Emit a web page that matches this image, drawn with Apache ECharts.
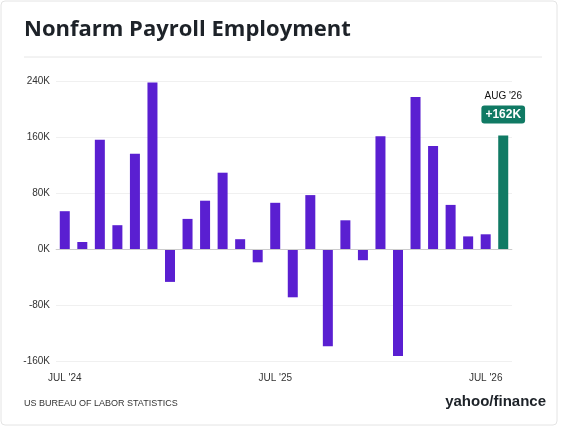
<!DOCTYPE html><html><head><meta charset="utf-8">
<script src="https://cdn.jsdelivr.net/npm/echarts@6/dist/echarts.min.js"></script>
<style>html,body{margin:0;background:#fff}#c{width:566px;height:428px}</style></head><body><div id="c"></div>
<script>
const months=["JUL '24","AUG '24","SEP '24","OCT '24","NOV '24","DEC '24","JAN '25","FEB '25","MAR '25","APR '25","MAY '25","JUN '25","JUL '25","AUG '25","SEP '25","OCT '25","NOV '25","DEC '25","JAN '26","FEB '26","MAR '26","APR '26","MAY '26","JUN '26","JUL '26","AUG '26"];
const payrolls=[54,10,156,34,136,238,-47,43,69,109,14,-19,66,-69,77,-139,41,-16,161,-153,217,147,63,18,21,162];
const shownLabels=["JUL '24","JUL '25","JUL '26"];
const yTicks=[-160,-80,0,80,160,240];
const ch=echarts.init(document.getElementById('c'));
const last=payrolls.length-1;
ch.setOption({
 animation:false,
 graphic:[
  {type:'rect',shape:{x:1,y:1,width:556,height:424,r:4},style:{fill:'none',stroke:'#e4e4e4',lineWidth:1}},
  {type:'text',left:24,top:19,style:{text:'Nonfarm Payroll Employment',font:'bold 22px "Open Sans", sans-serif',fill:'#1d2228'}},
  {type:'line',shape:{x1:24,y1:57,x2:542,y2:57},style:{stroke:'#e6e6e6',lineWidth:1}},
  {type:'text',left:24,top:399,style:{text:'US BUREAU OF LABOR STATISTICS',font:'9px "Liberation Sans", sans-serif',fill:'#333'}},
  {type:'text',right:20,top:394,style:{text:'yahoo/finance',font:'bold 15px "Liberation Sans", sans-serif',fill:'#1d2228'}}
 ],
 grid:{left:56,right:54,top:81,bottom:67},
 xAxis:{type:'category',data:months,axisTick:{show:false},axisLine:{show:true,lineStyle:{color:'#ddd'}},
  axisLabel:{interval:0,color:'#333',fontSize:10,margin:12,formatter:v=>shownLabels.includes(v)?v:''}},
 yAxis:{type:'value',min:-160,max:240,interval:80,
  axisLabel:{color:'#333',fontSize:10,margin:6,formatter:v=>yTicks.includes(v)?v+'K':''},
  splitLine:{lineStyle:{color:'#f0f0f0'}},axisLine:{show:false}},
 series:[{type:'bar',barWidth:10,
  data:payrolls.map((v,i)=>({value:v,itemStyle:{color:i===last?'#107a64':'#5a1fd1'}})),
  markLine:{silent:true,symbol:'none',label:{show:false},lineStyle:{color:'#ccc',type:'solid',width:1},data:[{yAxis:0}]},
  label:{show:true,position:'top',distance:12,formatter:p=>p.dataIndex===last?'{m|'+months[last]+'}\n{v|+'+p.value+'K}':'',
   rich:{m:{fontSize:10,color:'#111',align:'center',padding:[0,0,4,0]},v:{fontSize:12,fontWeight:'bold',color:'#fff',backgroundColor:'#107a64',borderRadius:3,padding:[3,4],align:'center'}}}
 }]
});
</script></body></html>
